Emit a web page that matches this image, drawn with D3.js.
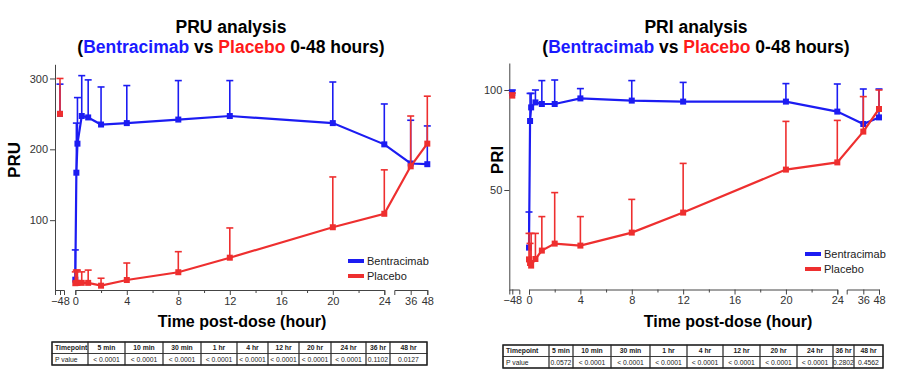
<!DOCTYPE html>
<html>
<head>
<meta charset="utf-8">
<script src="https://cdn.jsdelivr.net/npm/d3@7"></script>
<style>
  body { margin: 0; background: #fff; }
  svg { font-family: Arial, "Liberation Sans", sans-serif; }
  .tick text { fill: #333; }
</style>
</head>
<body>
<div id="chart"></div>
<script>
// time points in hours (-48 = pre-dose baseline)
const times = [-48, 0, 0.083, 0.167, 0.5, 1, 2, 4, 8, 12, 20, 24, 36, 48]

// PRU panel: mean and mean + SD
const pruBentra = [250, 16, 167, 208, 247, 245, 235, 237, 242, 247, 237, 207, 180, 179]
const pruBentraUp = [292, 58, 237, 273, 304, 298, 288, 290, 297, 297, 295, 264, 241, 233]
const pruPlacebo = [250, 11, 11.5, 11.5, 11.5, 11.5, 7.5, 15.5, 26.5, 47, 90, 109, 176, 208]
const pruPlaceboUp = [300, 27, 29.5, 29.5, 27, 29.5, 18, 39.5, 55.5, 89, 161, 171, 247, 275]

// PRI panel
const priBentra = [98.5, 21.2, 84.5, 91.3, 93.8, 93, 93, 95.8, 94.7, 94.2, 94.2, 89.2, 83, 86.3]
const priBentraUp = [100, 39, 98.3, 98.3, 100, 104.7, 105, 100.7, 104.7, 103.8, 103.2, 103, 100.5, 100.5]
const priPlacebo = [97.2, 15.3, 13.5, 12.2, 15.5, 19.7, 23.2, 22.2, 28.7, 38.7, 60.2, 63.8, 79.2, 90.5]
const priPlaceboUp = [98.5, 28.3, 23.3, 28.3, 28.3, 36.7, 48.7, 36.7, 45.3, 63.3, 84.3, 84.8, 96.7, 100]

// x tick labels per axis segment
const preTicks = [-48]
const mainTicks = [0, 4, 8, 12, 16, 20, 24]
const minorTicks = [2, 6, 10, 14, 18, 22]
const postTicks = [36, 48]

// p-value tables
const tableTimepoints = ["5 min", "10 min", "30 min", "1 hr", "4 hr", "12 hr", "20 hr", "24 hr", "36 hr", "48 hr"]
const pruPValues = ["< 0.0001", "< 0.0001", "< 0.0001", "< 0.0001", "< 0.0001", "< 0.0001", "< 0.0001", "< 0.0001", "0.1102", "0.0127"]
const priPValues = ["0.0572", "< 0.0001", "< 0.0001", "< 0.0001", "< 0.0001", "< 0.0001", "< 0.0001", "< 0.0001", "0.2802", "0.4562"]

const BLUE = "#1c1cf2"
const RED = "#ee2f2f"

const svg = d3.select("#chart").append("svg")
    .attr("width", 921)
    .attr("height", 382)

function drawPanel(cfg) {
    const g = svg.append("g")

    // title
    g.append("text")
        .attr("x", cfg.titleX).attr("y", 33)
        .attr("text-anchor", "middle")
        .attr("font-size", 17.5).attr("font-weight", "bold")
        .text(cfg.title)
    const t2 = g.append("text")
        .attr("x", cfg.titleX).attr("y", 53)
        .attr("text-anchor", "middle")
        .attr("font-size", 17.5).attr("font-weight", "bold")
    t2.append("tspan").text("(")
    t2.append("tspan").attr("fill", "#1a1aff").text("Bentracimab")
    t2.append("tspan").text(" vs ")
    t2.append("tspan").attr("fill", "#ff1a1a").text("Placebo")
    t2.append("tspan").text(" 0-48 hours)")

    // scales
    const y = d3.scaleLinear().domain(cfg.yDomain).range([cfg.y0, cfg.yTop])

    const kPre = 1.4
    const xPre = d3.scaleLinear()
        .domain([-48 - (cfg.pre[1] - cfg.pre[0]) / kPre, -48 + (cfg.pre[2] - cfg.pre[1]) / kPre])
        .range([cfg.pre[0], cfg.pre[2]])
    const xMain = d3.scaleLinear().domain([0, 24]).range(cfg.main)
    const kPost = (cfg.post[2] - cfg.post[1]) / 12
    const xPost = d3.scaleLinear()
        .domain([36 - (cfg.post[1] - cfg.post[0]) / kPost, 48])
        .range([cfg.post[0], cfg.post[2]])

    const xPos = t => t < 0 ? xPre(t) : (t <= 24 ? xMain(t) : xPost(t))

    // y axis
    const yAxis = g.append("g")
        .attr("transform", `translate(${cfg.pre[0]},0)`)
        .call(d3.axisLeft(y).tickValues(cfg.yTicks).tickSize(5).tickSizeOuter(0).tickPadding(2))
    yAxis.selectAll("text").attr("font-size", 11)
    yAxis.selectAll("path, line").attr("stroke", "#444")

    // x axis segments
    const axY = cfg.xAxisY
    function segment(scale, vals) {
        const a = g.append("g")
            .attr("transform", `translate(0,${axY})`)
            .call(d3.axisBottom(scale).tickValues(vals).tickSize(5).tickSizeOuter(5).tickPadding(2)
                .tickFormat(d3.format("d")))
        a.selectAll("text").attr("font-size", 11)
        a.selectAll("path, line").attr("stroke", "#444")
        return a
    }
    segment(xPre, preTicks)
    segment(xMain, mainTicks)
    segment(xPost, postTicks)
    g.append("g")
        .attr("transform", `translate(0,${axY})`)
        .call(d3.axisBottom(xMain).tickValues(minorTicks).tickSize(3).tickSizeOuter(0).tickFormat(""))
        .call(a => a.select(".domain").remove())
        .selectAll("line").attr("stroke", "#444")

    // axis titles
    g.append("text")
        .attr("transform", `translate(${cfg.yLabelX},${160}) rotate(-90)`)
        .attr("text-anchor", "middle")
        .attr("font-size", 17).attr("font-weight", "bold")
        .text(cfg.yLabel)
    g.append("text")
        .attr("x", cfg.xLabelX).attr("y", 327)
        .attr("text-anchor", "middle")
        .attr("font-size", 16).attr("font-weight", "bold")
        .text("Time post-dose (hour)")

    // series
    const series = [
        { mean: cfg.bentra, up: cfg.bentraUp, color: BLUE },
        { mean: cfg.placebo, up: cfg.placeboUp, color: RED }
    ]
    const line = d3.line().x(d => xPos(d.t)).y(d => y(d.v))

    series.forEach(s => {
        const pts = times.map((t, i) => ({ t: t, v: s.mean[i], u: s.up[i] }))
        const sg = g.append("g")

        sg.selectAll(".err").data(pts).enter().append("line")
            .attr("x1", d => xPos(d.t)).attr("x2", d => xPos(d.t))
            .attr("y1", d => y(d.v)).attr("y2", d => y(d.u))
            .attr("stroke", s.color).attr("stroke-width", 1.6)
        sg.selectAll(".cap").data(pts).enter().append("line")
            .attr("x1", d => xPos(d.t) - 3.5).attr("x2", d => xPos(d.t) + 3.5)
            .attr("y1", d => y(d.u)).attr("y2", d => y(d.u))
            .attr("stroke", s.color).attr("stroke-width", 1.6)

        sg.append("path")
            .datum(pts.filter(d => d.t >= 0))
            .attr("d", line)
            .attr("fill", "none")
            .attr("stroke", s.color)
            .attr("stroke-width", 2.2)

        sg.selectAll(".pt").data(pts).enter().append("rect")
            .attr("x", d => xPos(d.t) - 3).attr("y", d => y(d.v) - 3)
            .attr("width", 6).attr("height", 6)
            .attr("fill", s.color)
    })

    // legend
    const leg = g.append("g")
    ;[["Bentracimab", BLUE], ["Placebo", RED]].forEach((d, i) => {
        const ly = cfg.legY + i * 15
        leg.append("line")
            .attr("x1", cfg.legX).attr("x2", cfg.legX + 16)
            .attr("y1", ly).attr("y2", ly)
            .attr("stroke", d[1]).attr("stroke-width", 4)
        leg.append("text")
            .attr("x", cfg.legX + 19).attr("y", ly + 4)
            .attr("font-size", 11).attr("fill", "#222")
            .text(d[0])
    })

    // p-value table
    const tb = g.append("g")
    const cols = cfg.cols
    const rows = [["Timepoint"].concat(tableTimepoints), ["P value"].concat(cfg.pValues)]
    const rh = (cfg.tableY[1] - cfg.tableY[0]) / 2
    rows.forEach((row, r) => {
        row.forEach((txt, c) => {
            const x0 = cols[c], x1 = cols[c + 1]
            const y0 = cfg.tableY[0] + r * rh
            tb.append("rect")
                .attr("x", x0).attr("y", y0)
                .attr("width", x1 - x0).attr("height", rh)
                .attr("fill", "none").attr("stroke", "#333").attr("stroke-width", 0.8)
            tb.append("text")
                .attr("x", c === 0 ? x0 + 3 : (x0 + x1) / 2)
                .attr("y", y0 + rh / 2 + 2.4)
                .attr("text-anchor", c === 0 ? "start" : "middle")
                .attr("font-size", 6.8)
                .attr("font-weight", r === 0 ? "bold" : "normal")
                .attr("fill", "#222")
                .text(txt)
        })
    })
    tb.append("rect")
        .attr("x", cols[0]).attr("y", cfg.tableY[0])
        .attr("width", cols[cols.length - 1] - cols[0]).attr("height", cfg.tableY[1] - cfg.tableY[0])
        .attr("fill", "none").attr("stroke", "#222").attr("stroke-width", 1.4)
}

drawPanel({
    title: "PRU analysis", titleX: 231, yLabel: "PRU", yLabelX: 20, xLabelX: 242,
    yDomain: [0, 320], y0: 291, yTop: 64.3, yTicks: [100, 200, 300], xAxisY: 290,
    pre: [55, 60, 64], main: [75.3, 384.3], post: [394.3, 410.7, 427.3],
    bentra: pruBentra, bentraUp: pruBentraUp, placebo: pruPlacebo, placeboUp: pruPlaceboUp,
    legX: 348, legY: 261,
    cols: [52, 88, 125, 163, 201, 237, 268, 299, 331, 366, 390, 427],
    tableY: [342, 365], pValues: pruPValues
})

drawPanel({
    title: "PRI analysis", titleX: 696, yLabel: "PRI", yLabelX: 503, xLabelX: 728,
    yDomain: [0, 113.5], y0: 290, yTop: 63, yTicks: [50, 100], xAxisY: 289.5,
    pre: [509.3, 512.3, 519.3], main: [529, 837.3], post: [846.7, 863.3, 879],
    bentra: priBentra, bentraUp: priBentraUp, placebo: priPlacebo, placeboUp: priPlaceboUp,
    legX: 805, legY: 254,
    cols: [503, 549, 573, 611, 650, 687, 723, 760, 797, 833, 854, 883],
    tableY: [345, 368], pValues: priPValues
})
</script>
</body>
</html>
